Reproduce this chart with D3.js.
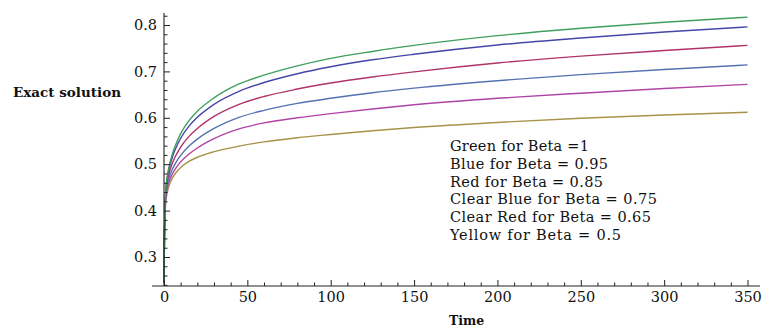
<!DOCTYPE html>
<html><head><meta charset="utf-8">
<script src="https://cdn.jsdelivr.net/npm/d3@7"></script>
<style>
html,body{margin:0;padding:0;background:#fff;}
svg{display:block;}
text{font-family:"DejaVu Serif","Liberation Serif",serif;fill:#111;}
</style></head>
<body>
<svg id="c" width="762" height="329"></svg>
<script>
const times = [0, 0.3, 1, 2, 3, 5, 7, 10, 15, 20, 30, 45, 60, 80, 100, 125, 150, 200, 250, 300, 350];
const green  = [0.245,0.36,0.44,0.475,0.494,0.522,0.542,0.566,0.594,0.614,0.643,0.673,0.692,0.712,0.728,0.743,0.756,0.777,0.793,0.806,0.817];
const blue   = [0.245,0.36,0.44,0.472,0.489,0.515,0.534,0.556,0.582,0.601,0.629,0.657,0.676,0.695,0.710,0.725,0.737,0.757,0.772,0.785,0.796];
const red    = [0.245,0.355,0.435,0.464,0.480,0.502,0.518,0.537,0.560,0.577,0.603,0.629,0.646,0.662,0.675,0.688,0.699,0.718,0.733,0.745,0.756];
const clearBlue = [0.245,0.35,0.43,0.456,0.470,0.489,0.503,0.519,0.539,0.554,0.577,0.601,0.616,0.631,0.642,0.654,0.664,0.680,0.693,0.704,0.714];
const clearRed  = [0.245,0.345,0.425,0.449,0.462,0.479,0.491,0.505,0.522,0.535,0.555,0.576,0.589,0.600,0.609,0.619,0.628,0.642,0.653,0.663,0.672];
const yellow = [0.245,0.335,0.415,0.44,0.453,0.470,0.481,0.493,0.506,0.515,0.527,0.539,0.548,0.557,0.564,0.572,0.579,0.590,0.599,0.606,0.612];

const seriesNames = ["Yellow","Clear Red","Clear Blue","Red","Blue","Green"];
const seriesColors = ["#a8924a","#b044a6","#5472b2","#b03468","#4646aa","#3f9f5e"];
const seriesValues = [yellow, clearRed, clearBlue, red, blue, green];

const legendLabels = ["Green for Beta =1","Blue for Beta = 0.95","Red for Beta = 0.85",
  "Clear Blue for Beta = 0.75","Clear Red for Beta = 0.65","Yellow for Beta = 0.5"];
const xTicks = [0,50,100,150,200,250,300,350];
const yTicks = [0.3,0.4,0.5,0.6,0.7,0.8];
const yLabel = "Exact solution";
const xLabel = "Time";

// layout (pixels)
const legendWidths = [139,158,153,207,201,171];

const svg = d3.select("#c");
const x = d3.scaleLinear().domain([0,350]).range([164,747.5]);
const y = d3.scaleLinear().domain([0.3,0.8]).range([257,25]);
const x0 = 286; // pixel of x-axis

// curves
const line = d3.line().x(d=>x(d[0])).y(d=>y(d[1])).curve(d3.curveMonotoneX);
seriesValues.forEach((vals,i)=>{
  svg.append("path").datum(times.map((t,j)=>[t,vals[j]]))
    .attr("fill","none").attr("stroke",seriesColors[i]).attr("stroke-width",1.4)
    .attr("d",line);
});

// axes lines
svg.append("line").attr("x1",152).attr("x2",760).attr("y1",x0).attr("y2",x0).attr("stroke","#222").attr("stroke-width",1.1);
svg.append("line").attr("x1",x(0)).attr("x2",x(0)).attr("y1",x0).attr("y2",13).attr("stroke","#222").attr("stroke-width",1.1);

// x axis
const gx = svg.append("g").attr("transform",`translate(0,${x0})`);
gx.call(d3.axisBottom(x).tickValues(xTicks).tickSize(-6).tickPadding(6).tickFormat(d3.format("d")));
gx.select(".domain").remove();
gx.selectAll("line").attr("stroke","#222");
gx.selectAll("text").attr("font-size",14.5).attr("font-family","DejaVu Serif").attr("fill","#111");
const gxm = svg.append("g").attr("transform",`translate(0,${x0})`);
gxm.call(d3.axisBottom(x).tickValues(d3.range(10,350,10).filter(v=>v%50)).tickSize(-3.5).tickFormat(""));
gxm.select(".domain").remove();
gxm.selectAll("line").attr("stroke","#222");

// y axis
const gy = svg.append("g").attr("transform",`translate(${x(0)},0)`);
gy.call(d3.axisLeft(y).tickValues(yTicks).tickSize(-6).tickPadding(7).tickFormat(d3.format(".1f")));
gy.select(".domain").remove();
gy.selectAll("line").attr("stroke","#222");
gy.selectAll("text").attr("font-size",14.5).attr("font-family","DejaVu Serif").attr("fill","#111");
const gym = svg.append("g").attr("transform",`translate(${x(0)},0)`);
gym.call(d3.axisLeft(y).tickValues(d3.range(0.24,0.83,0.02).filter(v=>Math.abs(v*10-Math.round(v*10))>0.01)).tickSize(-3.5).tickFormat(""));
gym.select(".domain").remove();
gym.selectAll("line").attr("stroke","#222");

// axis labels
svg.append("text").attr("x",13).attr("y",97).attr("font-size",13.5).attr("font-weight","bold").text(yLabel);
svg.append("text").attr("x",449).attr("y",325).attr("font-size",12.5).attr("font-weight","bold").text(xLabel);

// legend
legendLabels.forEach((s,i)=>{
  svg.append("text").attr("x",450).attr("y",151+i*17.8).attr("font-size",14.5)
    .attr("textLength",legendWidths[i]).attr("lengthAdjust","spacing").text(s);
});
</script>
</body></html>
